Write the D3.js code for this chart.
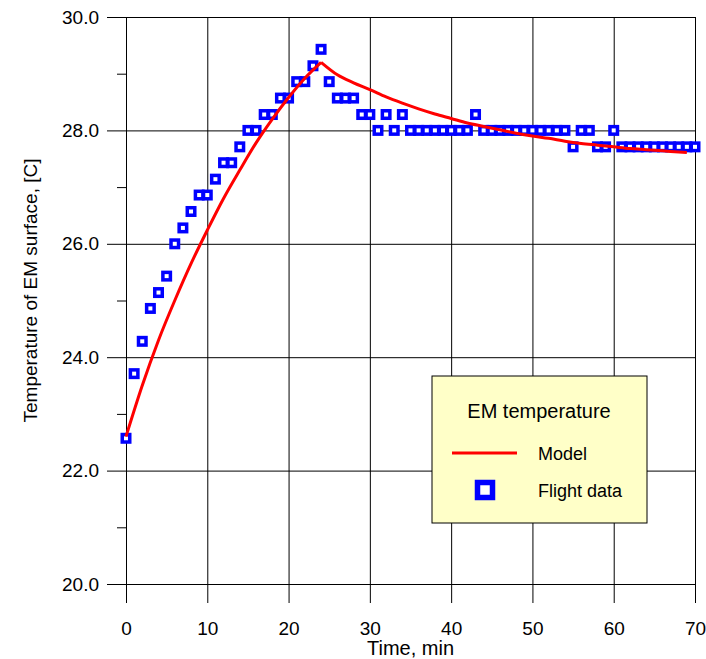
<!DOCTYPE html>
<html>
<head>
<meta charset="utf-8">
<script src="https://cdn.jsdelivr.net/npm/d3@7"></script>
<style>
  html, body { margin: 0; padding: 0; background: #fff; }
  svg { display: block; font-family: "Liberation Sans", Arial, sans-serif; }
</style>
</head>
<body>
<svg id="chart" width="706" height="659"></svg>
<script>
// ---- data ----
const flightTime = d3.range(0, 71);
const flightTemp = [
  22.57, 23.71, 24.28, 24.86, 25.14, 25.43, 26.00, 26.28, 26.57, 26.86,
  26.86, 27.14, 27.43, 27.43, 27.71, 28.00, 28.00, 28.28, 28.28, 28.57,
  28.57, 28.86, 28.86, 29.14, 29.43, 28.86, 28.57, 28.57, 28.57, 28.28,
  28.28, 28.00, 28.28, 28.00, 28.28, 28.00, 28.00, 28.00, 28.00, 28.00,
  28.00, 28.00, 28.00, 28.28, 28.00, 28.00, 28.00, 28.00, 28.00, 28.00,
  28.00, 28.00, 28.00, 28.00, 28.00, 27.71, 28.00, 28.00, 27.71, 27.71,
  28.00, 27.71, 27.71, 27.71, 27.71, 27.71, 27.71, 27.71, 27.71, 27.71,
  27.71
];
// model: heating phase (0-24 min) and cooling phase (24-69 min)
const modelHeatTime = [0, 2, 4, 6, 8, 10, 12, 14, 16, 18, 20, 22, 24];
const modelHeatTemp = [22.6, 23.5, 24.3, 25.0, 25.65, 26.24, 26.8, 27.3, 27.78, 28.2, 28.58, 28.92, 29.2];
const modelCoolTime = [24, 26, 28, 30, 32, 34, 36, 38, 40, 42, 44, 46, 48, 50, 52, 54, 56, 58, 60, 62, 64, 66, 68, 69];
const modelCoolTemp = [29.2, 28.98, 28.84, 28.72, 28.59, 28.48, 28.38, 28.29, 28.21, 28.13, 28.07, 28.01,
  27.95, 27.9, 27.86, 27.81, 27.77, 27.74, 27.71, 27.68, 27.66, 27.64, 27.62, 27.61];
const xTicks = [0, 10, 20, 30, 40, 50, 60, 70];
const yTicks = [20, 22, 24, 26, 28, 30];
const yMinorTicks = [21, 23, 25, 27, 29];
const xTitle = "Time, min";
const yTitle = "Temperature of EM surface, [C]";
const legendTitle = "EM temperature";
const seriesNames = ["Model", "Flight data"];

// ---- chart ----
const svg = d3.select("#chart");
const x = d3.scaleLinear().domain([0, 70]).range([126, 695]);
const y = d3.scaleLinear().domain([20, 30]).range([584, 17]);
const axisBottomY = 603, axisLeftX = 107;

// x grid + ticks + labels
const gx = svg.append("g")
  .attr("transform", `translate(0,${axisBottomY})`)
  .call(d3.axisBottom(x).tickValues(xTicks).tickFormat(d3.format("d"))
    .tickSizeInner(-(axisBottomY - y(30))).tickSizeOuter(0).tickPadding(19));
gx.select(".domain").remove();
gx.selectAll(".tick line").attr("stroke", "#000").attr("stroke-width", 1);
gx.selectAll(".tick text").attr("font-size", 19).attr("fill", "#000")
  .attr("font-family", "Liberation Sans, Arial, sans-serif");

// y grid + ticks + labels
const gy = svg.append("g")
  .attr("transform", `translate(${axisLeftX},0)`)
  .call(d3.axisLeft(y).tickValues(yTicks).tickFormat(d3.format(".1f"))
    .tickSizeInner(-(x(70) - axisLeftX)).tickSizeOuter(0).tickPadding(8));
gy.select(".domain").remove();
gy.selectAll(".tick line").attr("stroke", "#000").attr("stroke-width", 1);
gy.selectAll(".tick text").attr("font-size", 19).attr("fill", "#000")
  .attr("font-family", "Liberation Sans, Arial, sans-serif");

// minor y ticks
const gym = svg.append("g")
  .attr("transform", `translate(${x(0)},0)`)
  .call(d3.axisLeft(y).tickValues(yMinorTicks).tickFormat("").tickSizeInner(9).tickSizeOuter(0));
gym.select(".domain").remove();
gym.selectAll(".tick line").attr("stroke", "#000");

// axis titles
svg.append("text").attr("x", (x(0) + x(70)) / 2).attr("y", 655)
  .attr("text-anchor", "middle").attr("font-size", 20).text(xTitle);
svg.append("text").attr("transform", `translate(37,${(y(20) + y(30)) / 2 - 10}) rotate(-90)`)
  .attr("text-anchor", "middle").attr("font-size", 19).text(yTitle);

// flight data squares
const s = 7.5;
svg.append("g").selectAll("rect").data(flightTime.map((t, i) => [t, flightTemp[i]]))
  .join("rect")
  .attr("x", d => x(d[0]) - s / 2).attr("y", d => y(d[1]) - s / 2)
  .attr("width", s).attr("height", s)
  .attr("fill", "#fff").attr("stroke", "#0000ff").attr("stroke-width", 3.5);

// model line (two smooth phases, sharp peak)
const line = d3.line().x(d => x(d[0])).y(d => y(d[1])).curve(d3.curveMonotoneX);
const modelG = svg.append("g");
[[modelHeatTime, modelHeatTemp], [modelCoolTime, modelCoolTemp]].forEach(([ts, vs]) => {
  modelG.append("path").datum(ts.map((t, i) => [t, vs[i]]))
    .attr("d", line).attr("fill", "none").attr("stroke", "#ff0000")
    .attr("stroke-width", 3).attr("stroke-linejoin", "miter");
});

// legend
const lg = svg.append("g");
lg.append("rect").attr("x", 432).attr("y", 376).attr("width", 215).attr("height", 147)
  .attr("fill", "#ffffc8").attr("stroke", "#000").attr("stroke-width", 1);
lg.append("text").attr("x", 539).attr("y", 418).attr("text-anchor", "middle")
  .attr("font-size", 20).text(legendTitle);
lg.append("line").attr("x1", 452).attr("x2", 517).attr("y1", 453).attr("y2", 453)
  .attr("stroke", "#ff0000").attr("stroke-width", 3);
lg.append("text").attr("x", 538).attr("y", 460).attr("font-size", 18).text(seriesNames[0]);
lg.append("rect").attr("x", 485 - 7.5).attr("y", 490 - 7.5).attr("width", 15).attr("height", 15)
  .attr("fill", "#fff").attr("stroke", "#0000ff").attr("stroke-width", 5.5);
lg.append("text").attr("x", 538).attr("y", 497).attr("font-size", 18).text(seriesNames[1]);
</script>
</body>
</html>
